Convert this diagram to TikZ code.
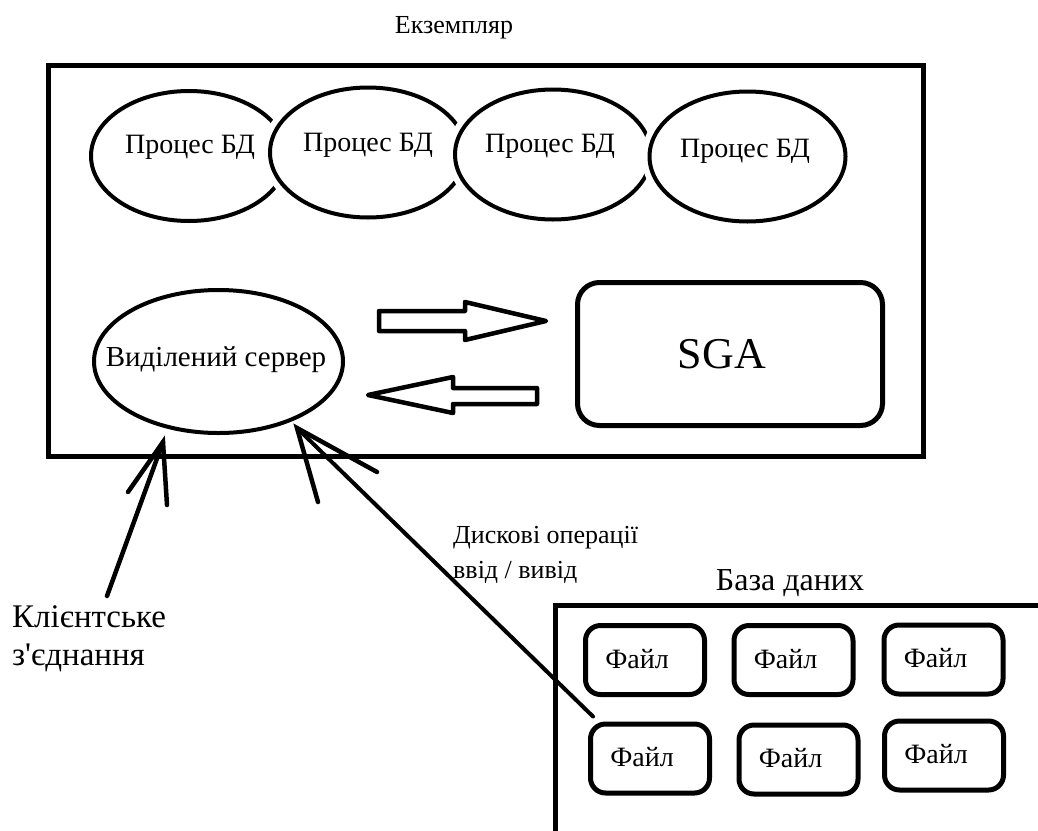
\documentclass[tikz,border=0pt]{standalone}
\usepackage{fontspec}
\setmainfont{Liberation Serif}
\usetikzlibrary{shapes.geometric,calc}

\tikzset{
  frame/.style={draw, line width=5pt, inner sep=0pt},
  proc/.style={ellipse, draw, line width=4pt, fill=white, inner sep=0pt,
    minimum width=196pt, minimum height=130pt,
    preaction={draw=white, line width=16pt}},
  filebox/.style={draw, line width=5pt, rounded corners=15pt, inner sep=0pt,
    minimum width=119pt, minimum height=69pt,
    label={[xshift=-8pt, yshift=1pt]center:Файл}},
  blockarrow/.style={draw, line width=4.5pt, line join=round},
  wire/.style={draw, line width=4.5pt, line cap=round},
  txt/.style={inner sep=0pt, font=\fontsize{28}{32}\selectfont},
}

\begin{document}
\begin{tikzpicture}[x=1pt, y=-1pt, font=\fontsize{28}{32}\selectfont]
  \useasboundingbox (0,0) rectangle (1038,830);
  \clip (0,0) rectangle (1038,830);

  % instance frame and its caption
  \node[txt, font=\fontsize{26}{30}\selectfont, anchor=base] (title) at (454,33) {Екземпляр};
  \node[frame, minimum width=875pt, minimum height=391pt] (inst) at (486,261) {};

  % background processes, each drawn over the previous one
  \node[proc] (p1) at (189,156) {};
  \node[proc] (p2) at (368,152.5) {};
  \node[proc] (p3) at (553,154.5) {};
  \node[proc] (p4) at (747.5,156.5) {};
  \node[txt, anchor=base] (t1) at (190,153) {Процес БД};
  \node[txt, anchor=base] (t2) at (368,151) {Процес БД};
  \node[txt, anchor=base] (t3) at (550,152) {Процес БД};
  \node[txt, anchor=base] (t4) at (745,157) {Процес БД};

  % dedicated server and the SGA
  \node[ellipse, draw, line width=4pt, inner sep=0pt,
        minimum width=249pt, minimum height=143pt] (srv) at (218.5,361.5) {};
  \node[txt, font=\fontsize{29}{32}\selectfont, anchor=base] (srvt) at (216,366) {Виділений сервер};
  \node[frame, rounded corners=22pt, minimum width=305pt, minimum height=143pt] (sga) at (730,354) {};
  \node[txt, font=\fontsize{44}{50}\selectfont, anchor=base] (sgat) at (722,368) {SGA};

  % hollow block arrows between server and SGA
  \draw[blockarrow] (379,311) -- (465,311) -- (465,302) -- (546,321)
        -- (465,340) -- (465,331) -- (379,331) -- cycle;
  \draw[blockarrow] (537,388) -- (453,388) -- (453,377) -- (368,395)
        -- (453,413) -- (453,404) -- (537,404) -- cycle;

  % client connection
  \node[txt, font=\fontsize{33}{38}\selectfont, align=left, anchor=north west] (client) at (12,605)
       {Клієнтське\\з\textquotesingle єднання};
  \coordinate (cend) at (107,596);
  \coordinate (ctip) at (163,442);
  \coordinate (cw1) at (128,492);
  \coordinate (cw2) at (167,505);
  \draw[wire] (cend) -- (ctip);
  \draw[wire] (cw1) -- (ctip) -- (cw2);

  % database with its files
  \node[txt, font=\fontsize{32}{36}\selectfont, anchor=base] (dbt) at (790,590) {База даних};
  \draw[line width=5pt] (1045,605) -- (555,605) -- (555,840);
  \node[filebox] (f1) at (645,660) {};
  \node[filebox] (f2) at (793.5,660) {};
  \node[filebox] (f3) at (943.5,659.5) {};
  \node[filebox] (f4) at (650,758.5) {};
  \node[filebox] (f5) at (798.5,759.5) {};
  \node[filebox] (f6) at (944,755.5) {};

  % disk input/output
  \node[txt, font=\fontsize{26}{35}\selectfont, align=left, anchor=north west] (io) at (453,526)
       {Дискові операції\\ввід / вивід};
  \coordinate (dtip) at (297,428);
  \coordinate (dw1) at (318,502);
  \coordinate (dw2) at (377,472);
  \draw[wire, line width=4pt] ($(f4.north west)+(5,-5)$) -- (dtip);
  \draw[wire] (dw1) -- (dtip) -- (dw2);
\end{tikzpicture}
\end{document}
